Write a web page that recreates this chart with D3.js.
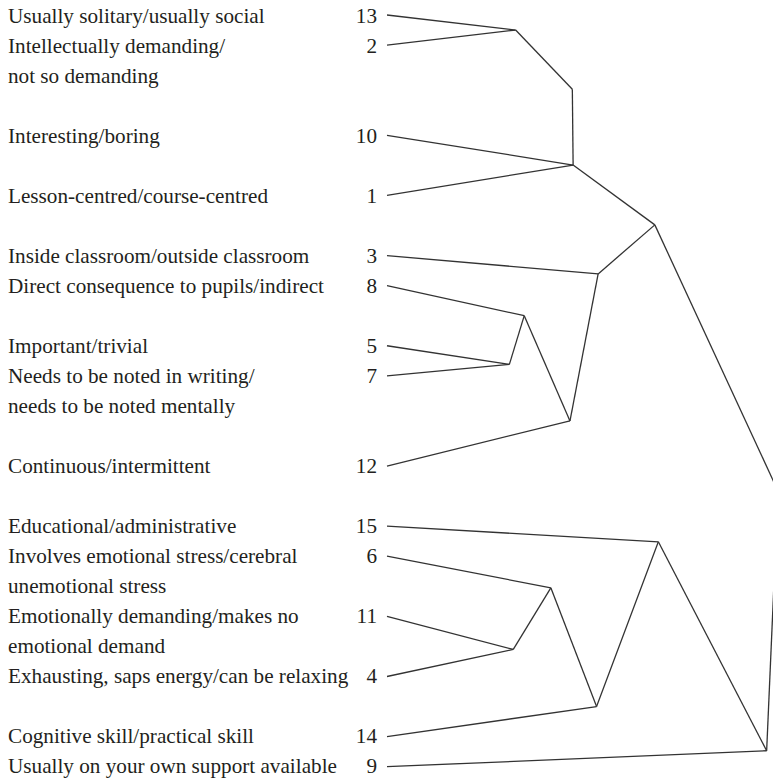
<!DOCTYPE html>
<meta charset="utf-8">
<style>
body { margin: 0; background: #fff; }
svg text {
  font-family: "Liberation Serif", "Times New Roman", serif;
  font-size: 21.2px;
  fill: #231f20;
}
.link {
  fill: none;
  stroke: #333;
  stroke-width: 1.3px;
}
</style>
<svg width="773" height="778"></svg>
<script src="https://d3js.org/d3.v7.min.js"></script>
<script>

// leaves, top to bottom
var leafIds = ["13", "2", "10", "1", "3", "8", "5", "7", "12", "15", "6", "11", "4", "14", "9"];
var leafRows = [0, 1, 4, 6, 8, 9, 11, 12, 15, 17, 18, 20, 22, 24, 25];
var leafParents = ["A", "A", "C", "C", "E", "G", "H", "H", "F", "J", "L", "M", "M", "K", "I"];
var leafLabels = [
  ["Usually solitary/usually social"],
  ["Intellectually demanding/", "not so demanding"],
  ["Interesting/boring"],
  ["Lesson-centred/course-centred"],
  ["Inside classroom/outside classroom"],
  ["Direct consequence to pupils/indirect"],
  ["Important/trivial"],
  ["Needs to be noted in writing/", "needs to be noted mentally"],
  ["Continuous/intermittent"],
  ["Educational/administrative"],
  ["Involves emotional stress/cerebral", "unemotional stress"],
  ["Emotionally demanding/makes no", "emotional demand"],
  ["Exhausting, saps energy/can be relaxing"],
  ["Cognitive skill/practical skill"],
  ["Usually on your own support available"]
];

// joins: id, parent, merge distance, vertical position (in rows)
var joinIds     = ["A", "B", "C", "D", "E", "F", "G", "H", "I", "J", "K", "L", "M", "R"];
var joinParents = ["B", "C", "D", "R", "D", "E", "F", "G", "R", "I", "J", "K", "L", ""];
var joinHeights = [32.9, 47.4, 47.6, 68.5, 54.0, 46.8, 35.1, 31.3, 97.1, 69.4, 53.6, 41.9, 32.3, 100];
var joinRows    = [0.5, 2.47, 4.99, 6.98, 8.61, 13.5, 10.0, 11.62, 24.47, 17.52, 23.0, 19.05, 21.1, 15.83];

var svg = d3.select("svg");

var x = d3.scaleLinear().domain([0, 100]).range([387, 778]);
var y = d3.scaleLinear().domain([0, 25]).range([15, 766.7]);
// text baselines sit a little below the branch ends
var yText = d3.scaleLinear().domain([0, 25]).range([23.3, 773]);

var table = leafIds.map(function(id, i) {
  return { id: id, parent: leafParents[i], height: 0, row: leafRows[i], label: leafLabels[i] };
}).concat(joinIds.map(function(id, i) {
  return { id: id, parent: joinParents[i], height: joinHeights[i], row: joinRows[i] };
}));

var root = d3.stratify()
    .id(function(d) { return d.id; })
    .parentId(function(d) { return d.parent; })(table);

svg.append("g")
  .selectAll("line")
  .data(root.links())
  .join("line")
    .attr("class", "link")
    .attr("x1", function(d) { return x(d.source.data.height); })
    .attr("y1", function(d) { return y(d.source.data.row); })
    .attr("x2", function(d) { return x(d.target.data.height); })
    .attr("y2", function(d) { return y(d.target.data.row); });

var leaves = root.leaves();

var lab = svg.append("g")
  .selectAll("g")
  .data(leaves)
  .join("g");

// cluster numbers, right-aligned just left of the branches
lab.append("text")
    .attr("x", 377)
    .attr("y", function(d) { return yText(d.data.row); })
    .attr("text-anchor", "end")
    .text(function(d) { return d.data.id; });

lab.selectAll("text.name")
  .data(function(d) { return d.data.label.map(function(t, i) { return { t: t, row: d.data.row + i }; }); })
  .join("text")
    .attr("class", "name")
    .attr("x", 8)
    .attr("y", function(d) { return yText(d.row); })
    .text(function(d) { return d.t; });

</script>
